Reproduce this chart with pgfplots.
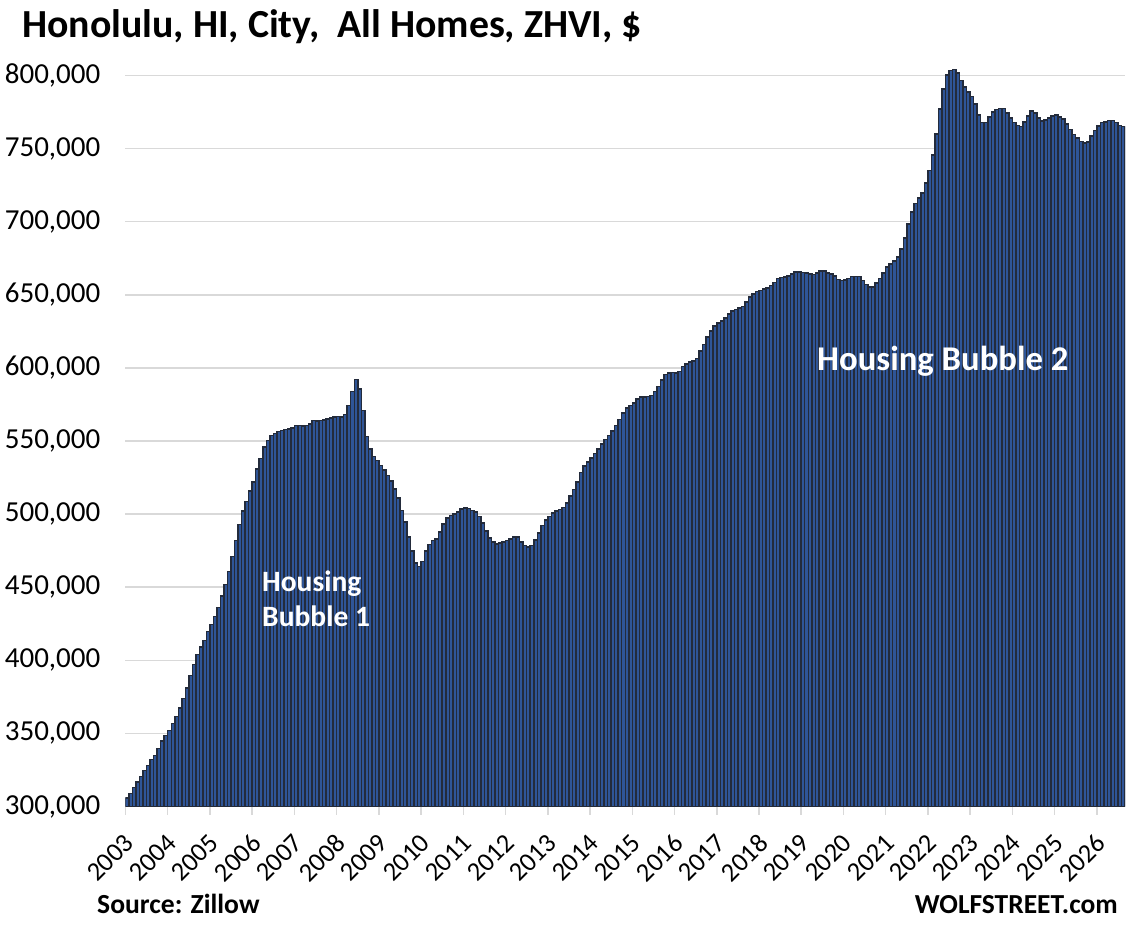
\documentclass[border=0pt]{standalone}
\usepackage{fontspec}
\setmainfont{Carlito}
\usepackage{pgfplots}
\pgfplotsset{compat=1.18}
\usepackage{pgfplotstable}
\definecolor{barblue}{HTML}{2F5597}
\definecolor{baredge}{HTML}{232B3B}
\definecolor{gridgray}{HTML}{D9D9D9}

% Monthly ZHVI, Jan 2003 onward (one value per month)
\pgfplotstableread{
y
305700
309000
313000
316600
320500
324600
328000
332000
335000
339500
344700
348600
352000
356600
361600
367500
373700
381000
389600
397000
404000
409000
413500
419700
424500
430000
436000
444000
451800
460700
471000
482000
493000
502000
508600
515700
522000
531000
538000
545800
550300
553800
555300
556500
557200
557700
558300
559000
560600
560600
560200
560600
561500
564000
563800
564000
564300
565200
565900
566300
566800
566300
568000
574300
584000
592000
585700
570800
553000
544700
539400
536700
533200
530300
526400
522500
517300
511000
502500
494500
484200
474600
466600
464200
467600
474600
479200
482000
483000
487600
493400
497500
499000
500200
501300
503600
504300
504000
502500
501300
498400
493800
488300
483800
480800
479700
480400
480800
482000
483000
484200
484200
480800
478500
477400
478500
482400
487000
492200
496000
498400
500600
502000
503200
504500
507500
512500
516700
521900
528300
532800
535500
538300
541300
544400
548100
551000
553800
556700
560600
564700
569000
572700
574300
576100
578900
580000
580000
580400
581100
583800
587300
591800
595500
596600
597000
596600
597700
600900
602800
603900
604600
606600
611400
616000
621000
625100
628500
630600
632000
634000
637000
638800
640000
640900
642000
645000
648400
650700
652300
653000
653900
654800
656200
658500
661000
661900
662300
663000
664400
665700
665700
665300
665000
664100
663900
665000
666200
666200
664800
664100
662700
660600
659800
660200
661000
662500
662500
662500
659800
657000
655200
655200
658000
661300
664800
669000
671200
673000
675800
681200
688800
698600
706500
712300
716100
719800
726600
735000
745700
760000
777000
790900
800400
803300
804000
801600
796600
792000
788600
785600
780600
773000
767700
767700
771500
774900
776700
777600
777600
774200
770800
767700
765800
765200
768100
772200
775600
774200
770800
768800
769700
771100
772200
773100
771500
770100
767000
763100
759600
757400
755000
753900
754400
758500
762400
765300
767700
768100
769200
769200
767700
765800
765000
}\datatable

\begin{document}
\begin{tikzpicture}[x=1pt,y=1pt]
\path[use as bounding box] (0,0) rectangle (1132,928);
\begin{axis}[
  at={(125.5pt,121.5pt)}, anchor=south west,
  scale only axis, width=999.5pt, height=745.6pt,
  xmin=-0.5, xmax=283.5, ymin=300000, ymax=810000,
  axis x line*=bottom, axis y line*=left,
  x axis line style={draw=gridgray, line width=1.5pt},
  y axis line style={draw=none},
  xtick={-0.5,11.5,23.5,35.5,47.5,59.5,71.5,83.5,95.5,107.5,119.5,131.5,143.5,155.5,167.5,179.5,191.5,203.5,215.5,227.5,239.5,251.5,263.5,275.5},
  xticklabels={2003,2004,2005,2006,2007,2008,2009,2010,2011,2012,2013,2014,2015,2016,2017,2018,2019,2020,2021,2022,2023,2024,2025,2026},
  ytick={300000,350000,400000,450000,500000,550000,600000,650000,700000,750000,800000},
  tick align=outside, major tick length=8.5pt,
  xtick style={draw=gridgray, line width=1.5pt},
  ytick style={draw=none},
  ymajorgrids, grid style={draw=gridgray, line width=1.5pt},
  scaled y ticks=false,
  /pgf/number format/.cd, fixed, 1000 sep={,}, assume math mode=true,
  /pgfplots/.cd,
  xticklabel style={xshift=-2.2pt, yshift=-17.3pt, rotate=45, anchor=north east, inner sep=0pt, font=\fontsize{26.5}{28}\selectfont, text=black},
  yticklabel style={anchor=east, inner sep=0pt, xshift=-16.5pt, font=\fontsize{29}{31}\selectfont, text=black},
  clip=true,
]
\addplot[ybar, bar width=1, fill=barblue, draw=baredge, line width=1.5pt]
  table[x expr=\coordindex, y=y] {\datatable};
\end{axis}
\node[anchor=base west, inner sep=0pt, font=\fontsize{39.8}{42}\selectfont\bfseries] at (22,890) {Honolulu, HI, City,\ \ All Homes, ZHVI, \$};
\node[anchor=base west, inner sep=0pt, font=\fontsize{34.7}{38}\selectfont\bfseries, text=white] at (817,557) {Housing Bubble 2};
\node[anchor=base west, inner sep=0pt, font=\fontsize{29.5}{32}\selectfont\bfseries, text=white] at (262,336.5) {Housing};
\node[anchor=base west, inner sep=0pt, font=\fontsize{29.5}{32}\selectfont\bfseries, text=white] at (262,301.5) {Bubble 1};
\node[anchor=base west, inner sep=0pt, font=\fontsize{27.6}{30}\selectfont\bfseries] at (97,14) {Source: Zillow};
\node[anchor=base east, inner sep=0pt, font=\fontsize{27.5}{30}\selectfont\bfseries] at (1118,14) {WOLFSTREET.com};
\end{tikzpicture}
\end{document}
